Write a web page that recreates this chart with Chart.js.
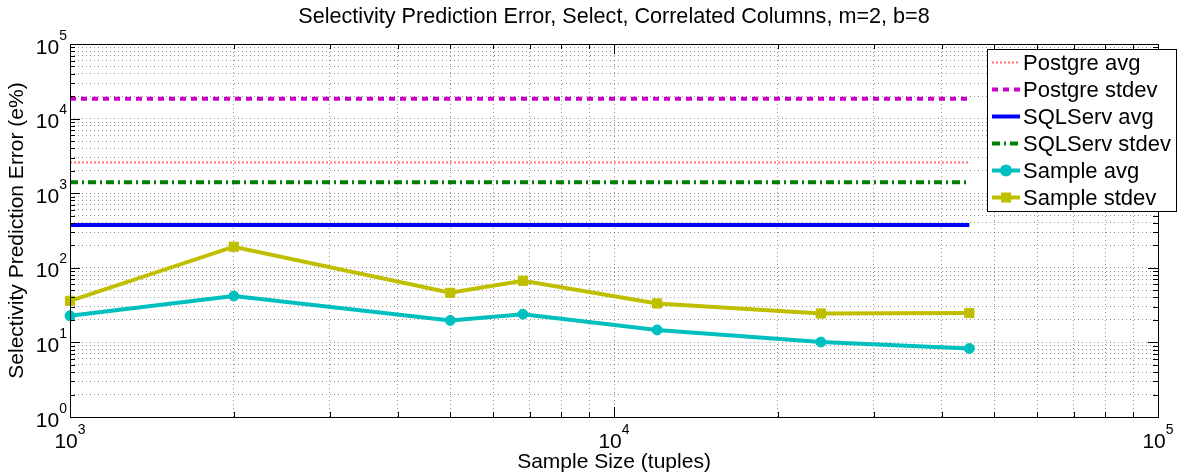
<!DOCTYPE html>
<html>
<head>
<meta charset="utf-8">
<script src="https://cdn.jsdelivr.net/npm/chart.js@4.4.0/dist/chart.umd.min.js"></script>
<style>
  body { margin: 0; background: #fff; }
  canvas { display: block; }
</style>
</head>
<body>
<canvas id="chart" width="1178" height="473"></canvas>
<script>
const sampleSizes = [1000, 2000, 5000, 6800, 12000, 24000, 45000];
const postgreAvg = 2570;
const postgreStdev = 18500;
const sqlservAvg = 375;
const sqlservStdev = 1400;
const sampleAvg = [22.7, 41.8, 19.7, 23.9, 14.7, 10.1, 8.3];
const sampleStdev = [36.1, 191.7, 46.2, 67, 33.3, 24.4, 24.8];
const xExps = [3, 4, 5];
const yExps = [0, 1, 2, 3, 4, 5];

const FONT = '"Liberation Sans", Arial, Helvetica, sans-serif';
const gridColor = 'rgba(0,0,0,0.42)';

// decade ticks 1..9 x 10^e, used for grid and minor ticks
function logTicks(lo, hi) {
  const out = [];
  for (let e = lo; e < hi; e++) {
    for (let m = 1; m < 10; m++) out.push({ value: m * Math.pow(10, e), major: m === 1 });
  }
  out.push({ value: Math.pow(10, hi), major: true });
  return out;
}

const flat = v => sampleSizes.map(x => ({ x, y: v }));
const pts = arr => sampleSizes.map((x, i) => ({ x, y: arr[i] }));

const data = {
  datasets: [
    { label: 'Postgre avg', data: flat(postgreAvg), borderColor: '#ff7070', borderWidth: 2, borderDash: [2, 2], pointRadius: 0 },
    { label: 'Postgre stdev', data: flat(postgreStdev), borderColor: '#cc00cc', borderWidth: 4, borderDash: [6, 5], pointRadius: 0 },
    { label: 'SQLServ avg', data: flat(sqlservAvg), borderColor: '#0000ff', borderWidth: 4, pointRadius: 0 },
    { label: 'SQLServ stdev', data: flat(sqlservStdev), borderColor: '#008000', borderWidth: 4, borderDash: [8, 4, 2, 4], pointRadius: 0 },
    { label: 'Sample avg', data: pts(sampleAvg), borderColor: '#00bfbf', backgroundColor: '#00bfbf', borderWidth: 4,
      pointStyle: 'circle', pointRadius: 5, pointBorderWidth: 1 },
    { label: 'Sample stdev', data: pts(sampleStdev), borderColor: '#bfbf00', backgroundColor: '#bfbf00', borderWidth: 4,
      pointStyle: 'rect', pointRadius: 6.5, pointBorderWidth: 1 },
  ],
};

function sup(ctx, base, exp, x, y, align) {
  // draws "10" with a superscript, x is centre (align 'center') or right edge (align 'right')
  ctx.font = '21px ' + FONT;
  const wb = ctx.measureText(base).width;
  ctx.font = '14px ' + FONT;
  const we = ctx.measureText(exp).width;
  const left = align === 'center' ? x - (wb + we) / 2 : x - wb - we;
  ctx.textAlign = 'left';
  ctx.textBaseline = 'alphabetic';
  ctx.font = '21px ' + FONT;
  ctx.fillText(base, left, y);
  ctx.font = '14px ' + FONT;
  ctx.fillText(exp, left + wb, y - 14);
}

const matlabAxes = {
  id: 'matlabAxes',
  afterDraw(chart) {
    const { ctx, chartArea: { left, right, top, bottom }, scales: { x, y } } = chart;
    ctx.save();
    ctx.strokeStyle = '#000';
    ctx.lineWidth = 1;
    ctx.setLineDash([]);
    ctx.strokeRect(left + 0.5, top + 0.5, right - left, bottom - top);

    // inward ticks on all four sides
    ctx.beginPath();
    x.ticks.forEach(t => {
      const px = Math.round(x.getPixelForValue(t.value)) + 0.5;
      const len = t.major ? 10 : 5;
      ctx.moveTo(px, bottom); ctx.lineTo(px, bottom - len);
      ctx.moveTo(px, top); ctx.lineTo(px, top + len);
    });
    y.ticks.forEach(t => {
      const py = Math.round(y.getPixelForValue(t.value)) + 0.5;
      const len = t.major ? 10 : 5;
      ctx.moveTo(left, py); ctx.lineTo(left + len, py);
      ctx.moveTo(right, py); ctx.lineTo(right - len, py);
    });
    ctx.stroke();

    ctx.fillStyle = '#000';
    xExps.forEach(e => {
      sup(ctx, '10', String(e), x.getPixelForValue(Math.pow(10, e)), 448, 'center');
    });
    yExps.forEach(e => {
      sup(ctx, '10', String(e), 67, y.getPixelForValue(Math.pow(10, e)) + 9.5, 'right');
    });

    ctx.textAlign = 'center';
    ctx.textBaseline = 'alphabetic';
    ctx.font = '21.6px ' + FONT;
    ctx.fillText('Selectivity Prediction Error, Select, Correlated Columns, m=2, b=8', (left + right) / 2, 23);
    ctx.font = '21px ' + FONT;
    ctx.fillText('Sample Size (tuples)', (left + right) / 2, 468);
    ctx.save();
    ctx.translate(23, (top + bottom) / 2);
    ctx.rotate(-Math.PI / 2);
    ctx.fillText('Selectivity Prediction Error (e%)', 0, 0);
    ctx.restore();

    // legend box
    const bx = 987, by = 49, bw = 189, bh = 162, row = 27;
    ctx.fillStyle = '#fff';
    ctx.fillRect(bx, by, bw, bh);
    ctx.strokeStyle = '#000';
    ctx.lineWidth = 1;
    ctx.strokeRect(bx + 0.5, by + 0.5, bw, bh);
    chart.data.datasets.forEach((ds, i) => {
      const cy = by + row / 2 + row * i;
      ctx.strokeStyle = ds.borderColor;
      ctx.lineWidth = ds.borderWidth;
      ctx.setLineDash(ds.borderDash || []);
      ctx.beginPath();
      ctx.moveTo(992, cy);
      ctx.lineTo(1020, cy);
      ctx.stroke();
      ctx.setLineDash([]);
      if (ds.pointRadius) {
        ctx.fillStyle = ds.backgroundColor;
        ctx.beginPath();
        if (ds.pointStyle === 'rect') ctx.rect(1006 - 5, cy - 5, 10, 10);
        else ctx.arc(1006, cy, 6, 0, Math.PI * 2);
        ctx.fill();
      }
      ctx.fillStyle = '#000';
      ctx.font = '22px ' + FONT;
      ctx.textAlign = 'left';
      ctx.textBaseline = 'middle';
      ctx.fillText(ds.label, 1023, cy + 1);
    });
    ctx.restore();
  },
};

const config = {
  type: 'line',
  data,
  options: {
    responsive: false,
    animation: false,
    layout: { padding: { top: 44, right: 20, left: 0, bottom: 0 } },
    elements: { line: { tension: 0 } },
    datasets: { line: { clip: false } },
    scales: {
      x: {
        type: 'logarithmic',
        min: 1e3,
        max: 1e5,
        afterBuildTicks: s => { s.ticks = logTicks(3, 5); },
        afterFit: s => { s.height = 56; },
        ticks: { display: false },
        grid: { color: gridColor, drawTicks: false },
        border: { display: false, dash: [1, 3] },
      },
      y: {
        type: 'logarithmic',
        min: 1,
        max: 1e5,
        afterBuildTicks: s => { s.ticks = logTicks(0, 5); },
        afterFit: s => { s.width = 70; },
        ticks: { display: false },
        grid: { color: gridColor, drawTicks: false },
        border: { display: false, dash: [1, 3] },
      },
    },
    plugins: {
      legend: { display: false },
      tooltip: { enabled: false },
    },
  },
  plugins: [matlabAxes],
};

new Chart(document.getElementById('chart'), config);
</script>
</body>
</html>
